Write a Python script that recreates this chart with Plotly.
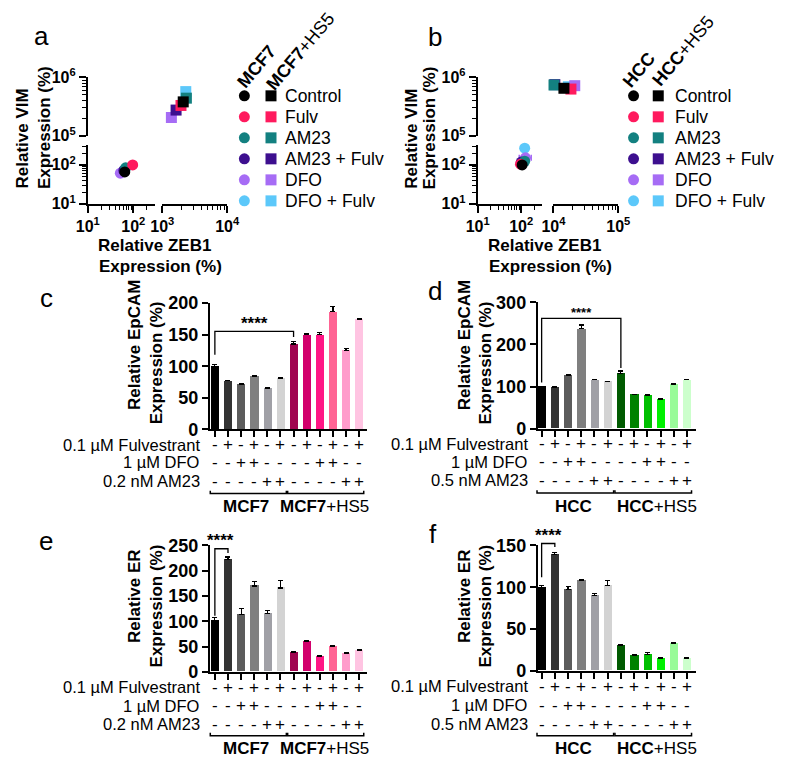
import plotly.graph_objects as go

# ---------------- data ----------------
treatments = ["Control", "Fulv", "AM23", "AM23 + Fulv", "DFO", "DFO + Fulv"]
scatter_colors = ["#000000", "#ff1a5e", "#138080", "#3d0f8f", "#a66cf5", "#5cc8fa"]

a_mcf7_zeb1 = [65, 97, 68, 62, 52, 60]
a_mcf7_vim = [66, 100, 84, 72, 61, 68]
a_hs5_zeb1 = [2100, 1940, 2350, 1630, 1380, 2300]
a_hs5_vim = [380000, 330000, 440000, 275000, 205000, 570000]

b_hcc_zeb1 = [105, 96, 120, 100, 125, 120]
b_hcc_vim = [100, 104, 124, 118, 152, 268]
b_hcc_zeb1_err_up = [0, 0, 0, 0, 45, 0]
b_hcc_zeb1_err_dn = [0, 0, 0, 0, 35, 0]
b_hs5_zeb1 = [14500, 18600, 10200, 10500, 21300, 17000]
b_hs5_vim = [650000, 630000, 740000, 750000, 720000, 690000]

c_vals = [100, 77, 72, 84, 65, 81, 135, 150, 150, 186, 125, 174]
c_err = [3, 1, 1, 1, 1, 1, 4, 1, 3, 8, 3, 2]
d_vals = [100, 98, 127, 237, 116, 112, 131, 81, 79, 70, 105, 116]
d_err = [1, 1, 2, 9, 1, 1, 6, 1, 1, 1, 1, 1]
e_vals = [101, 222, 113, 170, 115, 166, 38, 60, 31, 50, 37, 43]
e_err = [7, 5, 13, 8, 6, 14, 2, 1, 2, 1, 1, 2]
f_vals = [100, 139, 97, 108, 90, 102, 30, 19, 20, 15, 33, 15]
f_err = [2, 3, 4, 1, 3, 6, 1, 1, 2, 1, 1, 1]

fulv_signs = ["-", "+", "-", "+", "-", "+"] * 2
dfo_signs = ["-", "-", "+", "+", "-", "-"] * 2
am23_signs = ["-", "-", "-", "-", "+", "+"] * 2

greys = ["#000000", "#333333", "#5c5c5c", "#7f7f7f", "#a0a0a6", "#d3d3d3"]
pinks = ["#a00550", "#d2006c", "#ff1585", "#ff6494", "#ff9ccb", "#ffc4e2"]
greens = ["#005a00", "#008200", "#00bf00", "#00f000", "#99fb99", "#ccffcc"]

# ---------------- helpers ----------------
W, H = 785, 765
OFF = 8  # page margin of the browser: positions below are given in window pixels
ROT_SHIFT = -3  # small correction for rotated titles
FONT = "Liberation Sans"


def fx(p):
    return (p - OFF) / W


def fy(p):
    return 1 - (p - OFF) / H


def sup(e):
    return f"10<sup>{e}</sup>"


common = dict(showline=True, linecolor="black", linewidth=1.8, ticks="outside",
              tickcolor="black", tickwidth=1.6, ticklen=7, showgrid=False,
              zeroline=False, fixedrange=True)
tfont = dict(family=FONT, size=16, color="black", weight="bold")


def minor(vals):
    return dict(tickvals=vals, ticks="outside", ticklen=4, tickwidth=1.2,
                tickcolor="black", showgrid=False)


dec1 = [20, 30, 40, 50, 60, 70, 80, 90]

fig = go.Figure()
layout = {}
annotations = []
shapes = []


def text_ann(txt, px, py, size, angle=0, xanchor="center", bold=False):
    if angle == -90:
        px = px + ROT_SHIFT
    annotations.append(dict(text=f"<b>{txt}</b>" if bold else txt, x=fx(px), y=fy(py),
                            xref="paper", yref="paper", textangle=angle, showarrow=False,
                            xanchor=xanchor, yanchor="middle",
                            font=dict(family=FONT, size=size, color="black")))


# ---------------- scatter panels ----------------
def scatter_panel(n1, n2, m1, m2, xdom1, xr1, xdom2, xr2, xt1, xt2, xm1, xm2,
                  circ_x, circ_y, sq_x, sq_y, circ_xerr=None):
    xs1 = "x" + ("" if n1 == 1 else str(n1))
    ys1 = "y" + ("" if m1 == 1 else str(m1))
    layout["xaxis" + xs1[1:]] = dict(
        type="log", domain=[fx(xdom1[0]), fx(xdom1[1])], range=xr1, anchor=ys1,
        tickvals=xt1, ticktext=[sup(len(str(v)) - 1) for v in xt1], tickfont=tfont,
        minor=minor(xm1), **common)
    layout["xaxis" + str(n2)] = dict(
        type="log", domain=[fx(xdom2[0]), fx(xdom2[1])], range=xr2, anchor=ys1,
        tickvals=xt2, ticktext=[sup(len(str(v)) - 1) for v in xt2], tickfont=tfont,
        minor=minor(xm2), **common)
    layout["yaxis" + ys1[1:]] = dict(
        type="log", domain=[fy(198), fy(138)], range=[1, 2.5], anchor=xs1,
        tickvals=[10, 100], ticktext=[sup(1), sup(2)], tickfont=tfont,
        minor=minor(dec1 + [200, 300]), **common)
    layout["yaxis" + str(m2)] = dict(
        type="log", domain=[fy(128), fy(68)], range=[5, 6], anchor=xs1,
        tickvals=[1e5, 1e6], ticktext=[sup(5), sup(6)], tickfont=tfont,
        minor=minor([v * 1e4 for v in dec1]), **common)
    for i in reversed(range(6)):
        ex = None
        if circ_xerr is not None and circ_xerr[0][i] > 0:
            ex = dict(type="data", array=[circ_xerr[0][i]], arrayminus=[circ_xerr[1][i]],
                      symmetric=False, color=scatter_colors[i], thickness=1.5, width=3)
        fig.add_trace(go.Scatter(x=[circ_x[i]], y=[circ_y[i]], mode="markers",
                                 marker=dict(symbol="circle", size=11, color=scatter_colors[i]),
                                 error_x=ex, xaxis=xs1, yaxis=ys1, cliponaxis=False))
    for i in reversed(range(6)):
        fig.add_trace(go.Scatter(x=[sq_x[i]], y=[sq_y[i]], mode="markers",
                                 marker=dict(symbol="square", size=11, color=scatter_colors[i]),
                                 xaxis="x" + str(n2), yaxis="y" + str(m2), cliponaxis=False))


scatter_panel(1, 2, 1, 2, (78, 147), [1, 2.468], (155, 222), [3, 4],
              [10, 100], [1000, 10000], dec1 + [200], [v * 100 for v in dec1],
              a_mcf7_zeb1, a_mcf7_vim, a_hs5_zeb1, a_hs5_vim)
scatter_panel(3, 4, 3, 4, (480.7, 547), [1, 2.473], (559, 626), [4, 5],
              [10, 100], [10000, 100000], dec1 + [200], [v * 1000 for v in dec1],
              b_hcc_zeb1, b_hcc_vim, b_hs5_zeb1, b_hs5_vim,
              circ_xerr=(b_hcc_zeb1_err_up, b_hcc_zeb1_err_dn))


# legends (hidden axes)
def legend_panel(ax, dom_x, headers, hdr_pos, text_px, size):
    layout["xaxis" + str(ax)] = dict(domain=[fx(dom_x[0]), fx(dom_x[1])], range=[-0.5, 1.5],
                                     visible=False, fixedrange=True, anchor="y" + str(ax))
    layout["yaxis" + str(ax)] = dict(domain=[fy(205.8), fy(76.2)], range=[5.5, -0.5],
                                     visible=False, fixedrange=True, anchor="x" + str(ax))
    fig.add_trace(go.Scatter(x=[0] * 6, y=list(range(6)), mode="markers",
                             marker=dict(symbol="circle", size=11, color=scatter_colors),
                             xaxis="x" + str(ax), yaxis="y" + str(ax), cliponaxis=False))
    fig.add_trace(go.Scatter(x=[1] * 6, y=list(range(6)), mode="markers",
                             marker=dict(symbol="square", size=11, color=scatter_colors),
                             xaxis="x" + str(ax), yaxis="y" + str(ax), cliponaxis=False))
    for i, t in enumerate(treatments):
        annotations.append(dict(text=t, x=fx(text_px), xref="paper", y=i, yref="y" + str(ax),
                                xanchor="left", yanchor="middle", showarrow=False,
                                font=dict(family=FONT, size=size, color="black")))
    for h, (hx, hy) in zip(headers, hdr_pos):
        annotations.append(dict(text=h, x=fx(hx), y=fy(hy), xref="paper", yref="paper",
                                textangle=-50, showarrow=False, xanchor="center", yanchor="middle",
                                font=dict(family=FONT, size=18, color="black")))


legend_panel(11, (226, 281), ["<b>MCF7</b>", "<b>MCF7</b>+HS5"], [(252, 57), (298, 41)], 280, 17.5)
legend_panel(12, (629, 680), ["<b>HCC</b>", "<b>HCC</b>+HS5"], [(647, 60), (693, 41)], 682, 17.5)

# scatter axis titles (one annotation per line)
text_ann("Relative VIM", 14, 131, 17, -90, bold=True)
text_ann("Expression (%)", 37, 120, 17, -90, bold=True)
text_ann("Relative ZEB1", 147, 241, 17, bold=True)
text_ann("Expression (%)", 153, 262, 17, bold=True)
text_ann("Relative VIM", 415, 131, 17, -90, bold=True)
text_ann("Expression (%)", 434, 120, 17, -90, bold=True)
text_ann("Relative ZEB1", 550, 241, 17, bold=True)
text_ann("Expression (%)", 556, 262, 17, bold=True)

# ---------------- bar panels ----------------
bar_panels = [
    dict(ax=7, x0=204, x1=366.7, xr=[-0.39, 11.62], ybot=430, ytop=300, yr=[0, 200], dt=50,
         vals=c_vals, err=c_err, cols=greys + pinks, rows=(445.7, 464, 483.3), line=496, glab=509,
         am="0.2 nM AM23", groups=("<b>MCF7</b>", "<b>MCF7</b>+HS5"), gx=(2.4, 8.35),
         title=("Relative EpCAM", "Expression (%)"), tx=(130, 151.5), ty=(343, 362),
         br=(0, 6, 118, 155, 146), stars=(3.0, 167, 17)),
    dict(ax=8, x0=542.7, x1=706.4, xr=[-0.3, 11.7], ybot=429.3, ytop=299.3, yr=[0, 300], dt=100,
         vals=d_vals, err=d_err, cols=greys + greens, rows=(444.5, 463.5, 482.5), line=495.5, glab=509,
         am="0.5 nM AM23", groups=("<b>HCC</b>", "<b>HCC</b>+HS5"), gx=(2.45, 8.7),
         title=("Relative EpCAM", "Expression (%)"), tx=(470, 491.5), ty=(343, 362),
         br=(0, 6, 110, 262, 144), stars=(3.05, 276, 13)),
    dict(ax=9, x0=204, x1=366.7, xr=[-0.39, 11.62], ybot=679.3, ytop=549.3, yr=[0, 250], dt=50,
         vals=e_vals, err=e_err, cols=greys + pinks, rows=(695, 714, 733), line=745, glab=758,
         am="0.2 nM AM23", groups=("<b>MCF7</b>", "<b>MCF7</b>+HS5"), gx=(2.4, 8.35),
         title=("Relative ER", "Expression (%)"), tx=(130, 151.5), ty=(601, 612),
         br=(0, 1, 111, 243.5, 235), stars=(0.4, 260, 17)),
    dict(ax=10, x0=542.7, x1=706.4, xr=[-0.3, 11.7], ybot=678.3, ytop=549.3, yr=[0, 150], dt=50,
         vals=f_vals, err=f_err, cols=greys + greens, rows=(694, 713.5, 733), line=745, glab=758,
         am="0.5 nM AM23", groups=("<b>HCC</b>", "<b>HCC</b>+HS5"), gx=(2.45, 8.7),
         title=("Relative ER", "Expression (%)"), tx=(470, 491.5), ty=(601, 612),
         br=(0, 1, 112, 152.3, 148), stars=(0.55, 162, 17)),
]


def px_x(p, i):
    return p["x0"] + (i - p["xr"][0]) / (p["xr"][1] - p["xr"][0]) * (p["x1"] - p["x0"])


def px_y(p, v):
    return p["ybot"] - (v - p["yr"][0]) / (p["yr"][1] - p["yr"][0]) * (p["ybot"] - p["ytop"])


for p in bar_panels:
    a = str(p["ax"])
    n = len(p["vals"])
    layout["xaxis" + a] = dict(domain=[fx(p["x0"]), fx(p["x1"])], range=p["xr"], anchor="y" + a,
                               tickvals=list(range(n)), showticklabels=False,
                               **{**common, "ticklen": 6})
    layout["yaxis" + a] = dict(domain=[fy(p["ybot"]), fy(p["ytop"])], range=p["yr"], anchor="x" + a,
                               dtick=p["dt"], tick0=0, tickfont={**tfont, "size": 18},
                               **{**common, "ticklen": 6})
    fig.add_trace(go.Bar(x=list(range(n)), y=p["vals"], width=0.62,
                         marker=dict(color=p["cols"], line=dict(width=0)),
                         error_y=dict(type="data", array=p["err"], arrayminus=[0] * n,
                                      symmetric=False, color="black", thickness=1.2, width=2.5),
                         xaxis="x" + a, yaxis="y" + a))
    # treatment table
    labels = ["0.1 µM Fulvestrant", "1 µM DFO", p["am"]]
    for r, (lab, signs) in enumerate(zip(labels, [fulv_signs, dfo_signs, am23_signs])):
        yy = fy(p["rows"][r])
        annotations.append(dict(text=lab, x=fx(p["x0"] - 8), y=yy, xref="paper", yref="paper",
                                xanchor="right", yanchor="middle", showarrow=False,
                                font=dict(family=FONT, size=16.5, color="black")))
        for i, s in enumerate(signs):
            annotations.append(dict(text=s, x=i, xref="x" + a, y=yy, yref="paper",
                                    xanchor="center", yanchor="middle", showarrow=False,
                                    font=dict(family=FONT, size=17, color="black")))
    # group underlines
    for (g0, g1) in [(-0.35, 5.45), (5.55, 11.35)]:
        X0, X1 = fx(px_x(p, g0)), fx(px_x(p, g1))
        Y = fy(p["line"])
        Yu = fy(p["line"] - 3)
        shapes.append(dict(type="path", xref="paper", yref="paper",
                           path=f"M {X0},{Yu} L {X0},{Y} L {X1},{Y} L {X1},{Yu}",
                           line=dict(color="black", width=1.5)))
    for gx, gt in zip(p["gx"], p["groups"]):
        annotations.append(dict(text=gt, x=gx, xref="x" + a, y=fy(p["glab"]), yref="paper",
                                xanchor="center", yanchor="middle", showarrow=False,
                                font=dict(family=FONT, size=17, color="black")))
    # significance bracket
    b0, b1, yl, yt, yr_ = p["br"]
    X0, X1 = fx(px_x(p, b0)), fx(px_x(p, b1))
    shapes.append(dict(type="path", xref="paper", yref="paper",
                       path=(f"M {X0},{fy(px_y(p, yl))} L {X0},{fy(px_y(p, yt))} "
                             f"L {X1},{fy(px_y(p, yt))} L {X1},{fy(px_y(p, yr_))}"),
                       line=dict(color="black", width=1.3)))
    sx, sy, ss = p["stars"]
    annotations.append(dict(text="<b>****</b>", x=sx, xref="x" + a, y=fy(px_y(p, sy)), yref="paper",
                            xanchor="center", yanchor="middle", showarrow=False,
                            font=dict(family=FONT, size=ss, color="black")))
    # y title, one annotation per line
    for t, txp, typ in zip(p["title"], p["tx"], p["ty"]):
        text_ann(t, txp, typ, 17, -90, bold=True)

# panel letters
for t, (lx, ly) in zip("abcdef", [(30, 25), (437, 27), (35, 295), (437, 288), (35, 545), (435, 538)]):
    text_ann(t, lx, ly, 26)

fig.update_layout(width=W, height=H, margin=dict(l=0, r=0, t=0, b=0),
                  paper_bgcolor="white", plot_bgcolor="white", showlegend=False,
                  font=dict(family=FONT, color="black"), bargap=0,
                  annotations=annotations, shapes=shapes, **layout)

fig.write_html("out.html")
